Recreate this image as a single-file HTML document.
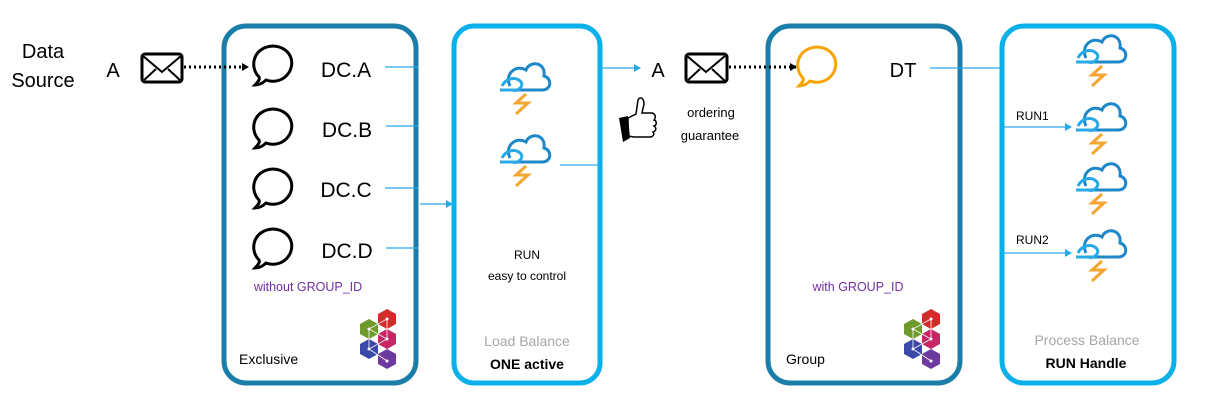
<!DOCTYPE html>
<html><head><meta charset="utf-8"><style>
body{margin:0;background:#fff;}
svg{display:block;font-family:"Liberation Sans",sans-serif;}
</style></head><body>
<svg width="1215" height="414" viewBox="0 0 1215 414" xmlns="http://www.w3.org/2000/svg">
<defs>
<g id="cloud">
 <path d="M-12,-2 C-18,-14 -6,-24 4,-18 C8,-28 24,-26 22,-12 C30,-10 30,2 20,2 L-8,2" fill="none" stroke="#1e88c8" stroke-width="3"/>
 <path d="M-20,-2 C-16,-10 -6,-12 -1,-6 C2,-2 -4,4 -10,2" fill="none" stroke="#29a9e6" stroke-width="3"/>
 <path d="M-22,2 L-4,2" stroke="#29a9e6" stroke-width="3"/>
 <path d="M4,6 L-6,15 L6,15 L-6,26" fill="none" stroke="#f7a531" stroke-width="3"/>
</g>
<g id="bubble">
 <path d="M-14,12 C-24,2 -20,-18 0,-19 C20,-18 24,2 12,12 C6,17 -2,17 -7,15 C-10,18 -14,20 -18,20 C-14,16 -13,14 -14,12 Z" fill="none" stroke-width="3"/>
</g>
<g id="hex">
 <polygon points="20,-28 29,-23 29,-13 20,-8 11,-13 11,-23" fill="#d42a2a"/>
 <polygon points="2,-18 11,-13 11,-3 2,2 -7,-3 -7,-13" fill="#6f9a2b"/>
 <polygon points="20,-8 29,-3 29,7 20,12 11,7 11,-3" fill="#c82566"/>
 <polygon points="2,2 11,7 11,17 2,22 -7,17 -7,7" fill="#3b4aa8"/>
 <polygon points="20,12 29,17 29,27 20,32 11,27 11,17" fill="#6d3aa0"/>
 <path d="M20,-18 L2,-8 L20,2 L2,12 L20,24 M20,-18 L20,2 M2,-8 L2,12" stroke="#fff" stroke-width="0.8" fill="none"/>
 <g fill="#fff"><circle cx="20" cy="-18" r="1.5"/><circle cx="2" cy="-8" r="1.5"/><circle cx="20" cy="2" r="1.5"/><circle cx="2" cy="12" r="1.5"/><circle cx="20" cy="24" r="1.5"/></g>
</g>
<marker id="ab" markerWidth="8" markerHeight="8" refX="6" refY="4" orient="auto" markerUnits="userSpaceOnUse"><path d="M0,0 L7,4 L0,8 Z" fill="#29a9e6"/></marker>
<marker id="ak" markerWidth="8" markerHeight="8" refX="6" refY="4" orient="auto" markerUnits="userSpaceOnUse"><path d="M0,0 L7,4 L0,8 Z" fill="#000"/></marker>
</defs>

<rect x="224" y="26" width="192" height="357" rx="22" fill="none" stroke="#1a7ea8" stroke-width="5"/>
<rect x="454" y="26" width="146" height="357" rx="20" fill="none" stroke="#0ab0ea" stroke-width="5"/>
<rect x="768" y="26" width="192" height="357" rx="22" fill="none" stroke="#1a7ea8" stroke-width="5"/>
<rect x="1002" y="26" width="172" height="357" rx="22" fill="none" stroke="#0ab0ea" stroke-width="5"/>

<text x="43" y="58" font-size="20" text-anchor="middle">Data</text>
<text x="43" y="87" font-size="20" text-anchor="middle">Source</text>
<text x="113" y="77" font-size="20" text-anchor="middle">A</text>
<rect x="142" y="54" width="40" height="28" rx="3" fill="none" stroke="#000" stroke-width="3"/>
<path d="M143,56 L162,72 L181,56 M143,81 L156,69 M181,81 L168,69" fill="none" stroke="#000" stroke-width="2"/>
<line x1="184" y1="67" x2="248" y2="67" stroke="#000" stroke-width="3" stroke-dasharray="2,3" marker-end="url(#ak)"/>

<g stroke="#000"><use href="#bubble" x="273" y="65"/><use href="#bubble" x="273" y="128"/><use href="#bubble" x="273" y="188"/><use href="#bubble" x="273" y="248"/></g>
<g font-size="21" text-anchor="middle">
<text x="346" y="77">DC.A</text><text x="347" y="137">DC.B</text><text x="346" y="197">DC.C</text><text x="347" y="258">DC.D</text>
</g>
<g stroke="#29a9e6" stroke-width="1.3">
<line x1="385" y1="67" x2="418" y2="67"/><line x1="386" y1="126" x2="418" y2="126"/><line x1="385" y1="188" x2="418" y2="188"/><line x1="386" y1="248" x2="418" y2="248"/>
<line x1="420" y1="204" x2="452" y2="204" marker-end="url(#ab)"/>
</g>
<text x="308" y="291" font-size="12.5" fill="#7030a0" text-anchor="middle">without GROUP_ID</text>
<text x="239" y="364" font-size="14">Exclusive</text>
<use href="#hex" x="367" y="337"/>

<use href="#cloud" x="522" y="88"/>
<use href="#cloud" x="522" y="160"/>
<line x1="560" y1="165" x2="602" y2="165" stroke="#29a9e6" stroke-width="1.3"/>
<text x="527" y="259" font-size="12" text-anchor="middle">RUN</text>
<text x="527" y="280" font-size="12" text-anchor="middle">easy to control</text>
<text x="527" y="346" font-size="14" fill="#a6a6a6" text-anchor="middle">Load Balance</text>
<text x="527" y="369" font-size="14" font-weight="bold" text-anchor="middle">ONE active</text>

<line x1="602" y1="68" x2="640" y2="68" stroke="#29a9e6" stroke-width="1.3" marker-end="url(#ab)"/>
<text x="658" y="77" font-size="20" text-anchor="middle">A</text>
<rect x="686" y="54" width="41" height="28" rx="3" fill="none" stroke="#000" stroke-width="3"/>
<path d="M687,56 L706,72 L725,56 M687,81 L700,69 M725,81 L712,69" fill="none" stroke="#000" stroke-width="2"/>
<line x1="729" y1="67" x2="796" y2="67" stroke="#000" stroke-width="3" stroke-dasharray="2,3" marker-end="url(#ak)"/>
<path d="M628,118 L636,114 L638,100 C640,96 644,98 644,104 L642,113 L652,113 C656,114 656,118 654,120 C657,121 657,125 654,126 C657,128 656,131 653,132 C655,134 653,137 650,137 L634,137 L628,136 Z" fill="#fff" stroke="#000" stroke-width="1.5"/>
<path d="M619,118 L628,116 L630,138 L623,142 Z" fill="#000"/>
<text x="711" y="117" font-size="13" text-anchor="middle">ordering</text>
<text x="710" y="140" font-size="13" text-anchor="middle">guarantee</text>

<g stroke="#f7a400"><use href="#bubble" x="817" y="66"/></g>
<text x="903" y="77" font-size="20" text-anchor="middle">DT</text>
<line x1="930" y1="68" x2="1000" y2="68" stroke="#29a9e6" stroke-width="1.3"/>
<text x="858" y="291" font-size="12.5" fill="#7030a0" text-anchor="middle">with GROUP_ID</text>
<text x="786" y="364" font-size="14">Group</text>
<use href="#hex" x="911" y="337"/>

<use href="#cloud" x="1098" y="60"/>
<use href="#cloud" x="1098" y="128"/>
<use href="#cloud" x="1098" y="188"/>
<use href="#cloud" x="1098" y="255"/>
<text x="1016" y="120" font-size="12">RUN1</text>
<text x="1016" y="244" font-size="12">RUN2</text>
<line x1="1002" y1="127" x2="1071" y2="127" stroke="#29a9e6" stroke-width="1.3" marker-end="url(#ab)"/>
<line x1="1002" y1="253" x2="1071" y2="253" stroke="#29a9e6" stroke-width="1.3" marker-end="url(#ab)"/>
<text x="1087" y="345" font-size="14" fill="#a6a6a6" text-anchor="middle">Process Balance</text>
<text x="1086" y="368" font-size="14" font-weight="bold" text-anchor="middle">RUN Handle</text>
</svg>
</body></html>
